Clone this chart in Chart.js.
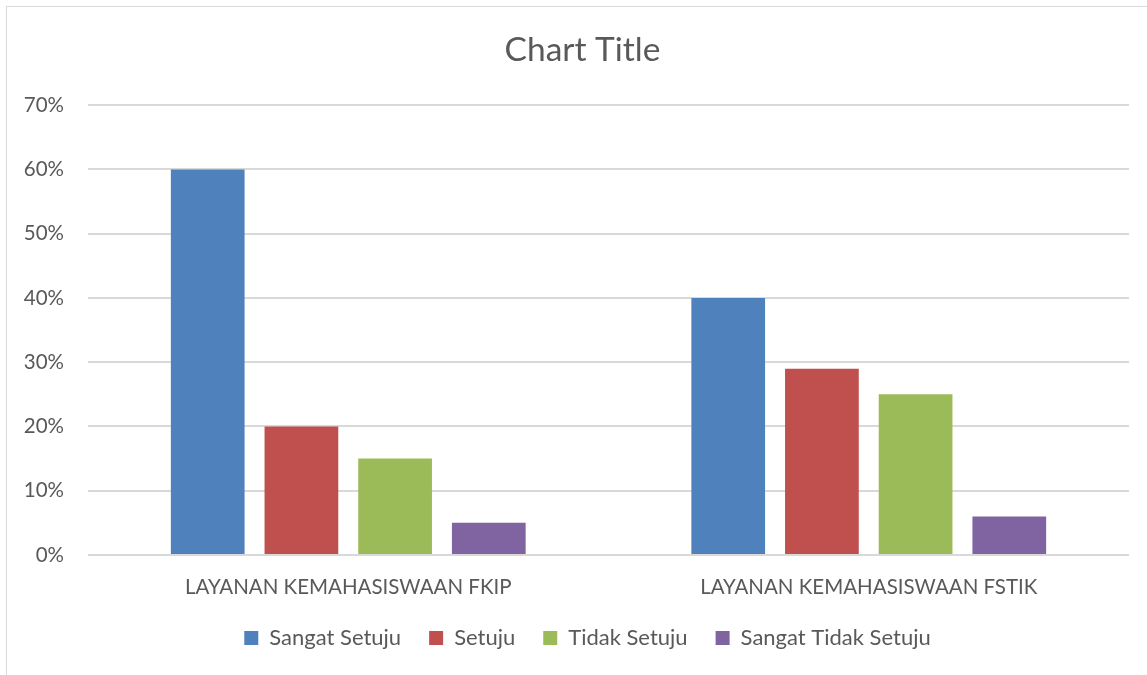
<!DOCTYPE html>
<html>
<head>
<meta charset="utf-8">
<script src="https://cdn.jsdelivr.net/npm/chart.js@4"></script>
<style>
  html, body { margin: 0; padding: 0; background: #fff; }
  #wrap { position: absolute; left: 0; top: 0; width: 1147px; height: 675px; }
  #frame { position: absolute; left: 6px; top: 6px; width: 1200px; height: 700px;
           border-left: 1.5px solid #d9d9d9; border-top: 1.5px solid #d9d9d9; pointer-events: none; }
</style>
</head>
<body>
<div id="wrap"><canvas id="c" width="1147" height="675"></canvas></div>
<div id="frame"></div>
<script>
const categories = ["LAYANAN KEMAHASISWAAN FKIP", "LAYANAN KEMAHASISWAAN FSTIK"];
const seriesNames = ["Sangat Setuju", "Setuju", "Tidak Setuju", "Sangat Tidak Setuju"];
const sangatSetuju = [60, 40];
const setuju = [20, 29];
const tidakSetuju = [15, 25];
const sangatTidakSetuju = [5, 6];
const yTicks = [0, 10, 20, 30, 40, 50, 60, 70];
const colors = ["#4F81BD", "#C0504D", "#9BBB59", "#8064A2"];

const seriesValues = [sangatSetuju, setuju, tidakSetuju, sangatTidakSetuju];
const FONT = "Lato, 'Open Sans', sans-serif";
const TXT = "#595959";

// Shift title and legend boxes horizontally to match the reference centring
const centerShift = {
  id: "centerShift",
  afterLayout(chart) {
    if (chart.titleBlock) { chart.titleBlock.left += 18; chart.titleBlock.right += 18; }
    if (chart.legend) { chart.legend.left += 23; chart.legend.right += 23; }
  }
};

new Chart(document.getElementById("c"), {
  type: "bar",
  data: {
    labels: categories,
    datasets: seriesNames.map((n, i) => ({
      label: n,
      data: seriesValues[i],
      backgroundColor: colors[i],
      borderWidth: 0,
      barPercentage: 0.787,
      categoryPercentage: 0.72
    }))
  },
  plugins: [centerShift],
  options: {
    responsive: false,
    animation: false,
    layout: { padding: { left: 0, right: 18, top: 0, bottom: 16 } },
    plugins: {
      title: {
        display: true,
        text: "Chart Title",
        color: TXT,
        font: { family: FONT, size: 33.5, weight: "normal" },
        padding: { top: 30, bottom: 35 }
      },
      legend: {
        position: "bottom",
        labels: {
          color: TXT,
          font: { family: FONT, size: 22 },
          boxWidth: 14,
          boxHeight: 14,
          padding: 28
        }
      },
      tooltip: { enabled: false }
    },
    scales: {
      x: {
        afterFit: (s) => { s.height = 44; },
        grid: { display: false, drawTicks: false },
        border: { display: false },
        ticks: { color: TXT, font: { family: FONT, size: 20.5, lineHeight: 1.1 }, padding: 20.7 }
      },
      y: {
        min: 0,
        max: 70,
        afterFit: (s) => { s.width = 88; },
        afterBuildTicks: (s) => { s.ticks = yTicks.map(v => ({ value: v })); },
        grid: { color: "#D9D9D9", lineWidth: 2, drawTicks: false },
        border: { display: false },
        ticks: {
          color: TXT,
          font: { family: FONT, size: 20.5 },
          padding: 24,
          callback: (v) => v + "%"
        }
      }
    }
  }
});
</script>
</body>
</html>
